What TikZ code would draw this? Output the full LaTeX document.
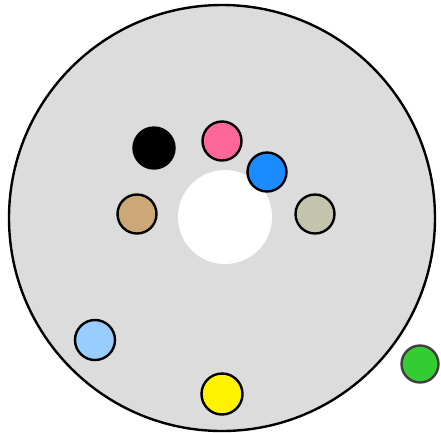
\documentclass[tikz,border=0pt]{standalone}
\begin{document}
\begin{tikzpicture}[x=1pt,y=-1pt,
  ball/.style={circle,draw=black,line width=2.4pt,inner sep=0pt,minimum size=#1},
  ball/.default=39pt]
\useasboundingbox (0,0) rectangle (441,432);
\definecolor{disk}{HTML}{DCDCDC}
\definecolor{pinkc}{HTML}{FF6699}
\definecolor{bluec}{HTML}{1A8CFF}
\definecolor{tanc}{HTML}{CCA878}
\definecolor{grayc}{HTML}{C4C4AC}
\definecolor{lblue}{HTML}{99CCFF}
\definecolor{greenc}{HTML}{33CC33}
\node[circle,draw=black,line width=2.4pt,fill=disk,minimum size=426pt,inner sep=0pt] (disk) at (222,218) {};
\node[circle,fill=white,minimum size=94pt,inner sep=0pt] (hole) at (225,217) {};
\node[ball=41pt,fill=black] (k) at (154,148) {};
\node[ball,fill=pinkc] (p) at (222,141) {};
\node[ball,fill=bluec] (b) at (267,172) {};
\node[ball,fill=tanc] (t) at (137,214) {};
\node[ball,fill=grayc] (g) at (315,214) {};
\node[ball=40pt,fill=lblue] (lb) at (95,340) {};
\node[ball=41pt,fill=yellow] (y) at (222,394) {};
\node[ball=37pt,fill=greenc,draw=black!75] (gr) at (420,364) {};
\end{tikzpicture}
\end{document}
